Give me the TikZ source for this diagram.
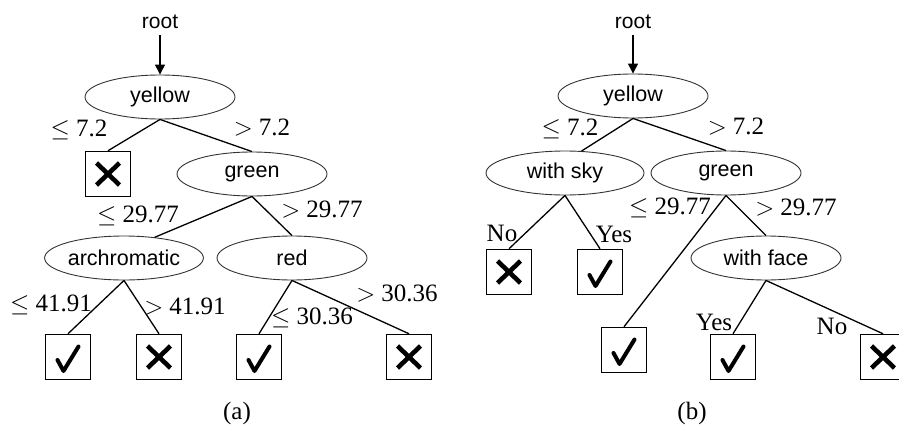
\documentclass[tikz,border=0pt]{standalone}
\usepackage{fontspec}
\setmainfont{Liberation Serif}
\newfontfamily\arial{Liberation Sans}
\usetikzlibrary{shapes.geometric,arrows.meta}
\tikzset{
  feat/.style={ellipse,draw=black!80,line width=0.9pt,minimum width=150pt,minimum height=44pt,inner sep=0pt,font=\arial\fontsize{21.5}{24}\selectfont},
  wide/.style={minimum width=158pt},
  leaf/.style={draw,line width=1.5pt,minimum size=45pt,inner sep=0pt},
  leafx/.style={leaf,path picture={
     \draw[line width=4.6pt] ([shift={(-11.5,-11)}]path picture bounding box.center) -- ([shift={(11.5,11)}]path picture bounding box.center);
     \draw[line width=4.6pt] ([shift={(-11.5,11)}]path picture bounding box.center) -- ([shift={(11.5,-11)}]path picture bounding box.center);}},
  leafok/.style={leaf,path picture={
     \draw[line width=4pt,line join=round,line cap=round] ([shift={(-10.5,3)}]path picture bounding box.center) -- ([shift={(-4.5,14)}]path picture bounding box.center) -- ([shift={(10.5,-10.5)}]path picture bounding box.center);}},
  edge/.style={line width=1.3pt},
  cond/.style={inner sep=0pt,font=\fontsize{25}{28}\selectfont},
  toplabel/.style={inner sep=0pt,font=\arial\fontsize{21}{24}\selectfont},
  caplabel/.style={inner sep=0pt,font=\fontsize{25}{28}\selectfont},
}
\begin{document}
\begin{tikzpicture}[x=1pt,y=-1pt]
\useasboundingbox (0,0) rectangle (899,431);
\clip (0,0) rectangle (899,431);
% ---------- (a) ----------
\node[toplabel] (ra) at (160,22) {root};
\coordinate (ras) at (160,35);
\node[feat] (ya) at (160,97) {yellow};
\node[leafx] (xa1) at (108,174) {};
\node[feat] (ga) at (252,174) {green};
\node[feat,wide] (aa) at (124,258) {archromatic};
\node[feat] (rda) at (292,258) {red};
\node[leafok] (ca1) at (68,357) {};
\node[leafx] (xa2) at (159,357) {};
\node[leafok] (ca2) at (259,357) {};
\node[leafx] (xa3) at (409,357) {};
\draw[edge,-{Triangle[length=10pt,width=10pt]}] (ras) -- (ya.north);
\draw[edge] (ya.south) -- (xa1.north);
\draw[edge] (ya.south) -- (ga.north);
\draw[edge] (ga.south) -- (aa.34);
\draw[edge] (ga.south) -- (rda.north);
\draw[edge] (aa.south) -- (ca1.north);
\draw[edge] (aa.south) -- (xa2.north);
\draw[edge] (rda.south) -- (ca2.north);
\draw[edge] (rda.south) -- (xa3.north);
\node[cond] (la1) at (79,130) {$\leq$ 7.2};
\node[cond] (la2) at (262,128) {$>$ 7.2};
\node[cond] (la3) at (138,216) {$\leq$ 29.77};
\node[cond] (la4) at (322,210) {$>$ 29.77};
\node[cond] (la5) at (51,305) {$\leq$ 41.91};
\node[cond] (la6) at (185,307) {$>$ 41.91};
\node[cond] (la7) at (397,294) {$>$ 30.36};
\node[cond] (la8) at (312,318) {$\leq$ 30.36};
\node[caplabel] (capa) at (237,413) {(a)};
% ---------- (b) ----------
\node[toplabel] (rb) at (633,22) {root};
\coordinate (rbs) at (633,35);
\node[feat] (yb) at (633,96) {yellow};
\node[feat,wide] (sb) at (565,173) {with sky};
\node[feat] (gb) at (726,173) {green};
\node[leafx] (xb1) at (509,272) {};
\node[leafok] (cb1) at (600,272) {};
\node[feat] (fb) at (766,258) {with face};
\node[leafok] (cb2) at (624,350) {};
\node[leafok] (cb3) at (733,357) {};
\node[leafx] (xb2) at (883,357) {};
\draw[edge,-{Triangle[length=10pt,width=10pt]}] (rbs) -- (yb.north);
\draw[edge] (yb.south) -- (sb.53);
\draw[edge] (yb.south) -- (gb.north);
\draw[edge] (sb.south) -- (xb1.north);
\draw[edge] (sb.south) -- (cb1.north);
\draw[edge] (gb.south) -- (cb2.north);
\draw[edge] (gb.south) -- (fb.north);
\draw[edge] (fb.south) -- (cb3.north);
\draw[edge] (fb.south) -- (xb2.north);
\node[cond] (lb1) at (570,129) {$\leq$ 7.2};
\node[cond] (lb2) at (736,127) {$>$ 7.2};
\node[cond] (lb3) at (670,208) {$\leq$ 29.77};
\node[cond] (lb4) at (796,208) {$>$ 29.77};
\node[cond] (lb5) at (502,233) {No};
\node[cond] (lb6) at (614,234) {Yes};
\node[cond] (lb7) at (714,322) {Yes};
\node[cond] (lb8) at (832,326) {No};
\node[caplabel] (capb) at (692,413) {(b)};
\end{tikzpicture}
\end{document}
